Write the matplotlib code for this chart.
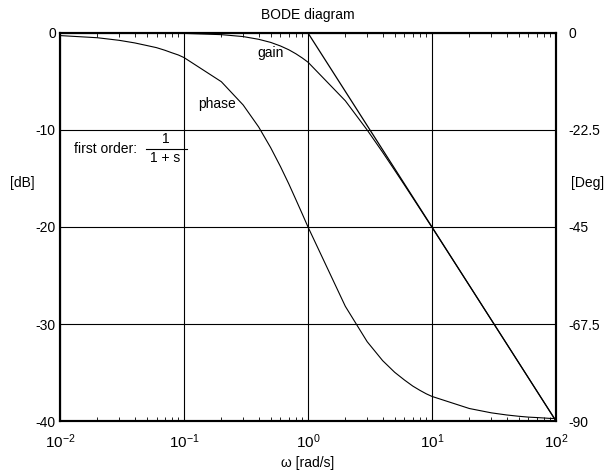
import matplotlib
matplotlib.use('Agg')
import matplotlib.pyplot as plt
from matplotlib.lines import Line2D

plt.rcParams['font.family'] = ['Liberation Sans', 'DejaVu Sans']
plt.rcParams['mathtext.fontset'] = 'custom'
plt.rcParams['mathtext.rm'] = 'Liberation Sans'
plt.rcParams['mathtext.it'] = 'Liberation Sans'
plt.rcParams['axes.unicode_minus'] = False

# pulsation (rad/s)
omega = [0.01, 0.02, 0.03, 0.04, 0.05, 0.06, 0.07, 0.08, 0.09,
         0.1, 0.2, 0.3, 0.4, 0.5, 0.6, 0.7, 0.8, 0.9,
         1, 2, 3, 4, 5, 6, 7, 8, 9,
         10, 20, 30, 40, 50, 60, 70, 80, 90, 100]

# gain (dB)
gain = [0.00, 0.00, 0.00, -0.01, -0.01, -0.02, -0.02, -0.03, -0.04,
        -0.04, -0.17, -0.37, -0.65, -0.97, -1.34, -1.73, -2.15, -2.58,
        -3.01, -6.99, -10.00, -12.30, -14.15, -15.68, -16.99, -18.13, -19.14,
        -20.04, -26.03, -29.55, -32.04, -33.98, -35.56, -36.90, -38.06, -39.08, -40.00]

# phase (deg)
phase = [-0.6, -1.1, -1.7, -2.3, -2.9, -3.4, -4.0, -4.6, -5.1,
         -5.7, -11.3, -16.7, -21.8, -26.6, -31.0, -35.0, -38.7, -42.0,
         -45.0, -63.4, -71.6, -76.0, -78.7, -80.5, -81.9, -82.9, -83.7,
         -84.3, -87.1, -88.1, -88.6, -88.9, -89.1, -89.2, -89.3, -89.4, -89.4]

# asymptote
asym_w = [1, 100]
asym_db = [0, -40]

db_ticks = [0, -10, -20, -30, -40]
deg_ticks = [0, -22.5, -45, -67.5, -90]
deg_labels = ['0', '-22.5', '-45', '-67.5', '-90']
w_ticks = [1e-2, 1e-1, 1, 10, 100]
w_labels = [r'$\mathregular{10^{-2}}$', r'$\mathregular{10^{-1}}$', r'$\mathregular{10^{0}}$',
            r'$\mathregular{10^{1}}$', r'$\mathregular{10^{2}}$']

fs = 10

fig = plt.figure(figsize=(6.05, 4.74), dpi=100)
ax = fig.add_axes([0.0992, 0.1118, 0.8198, 0.8186])
ax.set_xscale('log')
ax.set_xlim(1e-2, 1e2)
ax.set_ylim(-40, 0)

ax.plot(omega, gain, color='black', lw=0.8)
ax.plot(asym_w, asym_db, color='black', lw=0.9)

ax2 = ax.twinx()
ax2.set_ylim(-90, 0)
ax2.plot(omega, phase, color='black', lw=0.8)
ax2.set_yticks(deg_ticks)
ax2.set_yticklabels(deg_labels)
ax2.tick_params(axis='y', length=0, pad=9, labelsize=fs)

ax.set_yticks(db_ticks)
ax.set_yticklabels([str(v) for v in db_ticks])
ax.set_xticks(w_ticks)
ax.set_xticklabels(w_labels)
ax.grid(True, which='major', color='black', lw=0.8)
ax.tick_params(axis='y', length=0, pad=3, labelsize=fs)
ax.tick_params(axis='x', which='major', length=0, pad=8, labelsize=fs + 1)
ax.tick_params(axis='x', which='minor', direction='in', length=3, width=0.6,
               top=True, bottom=True)
for a in (ax, ax2):
    for s in a.spines.values():
        s.set_linewidth(1.5)

ax.set_title('BODE diagram', fontsize=fs, pad=10)
ax.set_xlabel('ω [rad/s]', fontsize=fs, labelpad=4)

fig.text(22 / 605, 1 - 183 / 474, '[dB]', fontsize=fs, ha='center', va='center')
fig.text(604 / 605, 1 - 183 / 474, '[Deg]', fontsize=fs, ha='right', va='center')

ax.text(0.39, -2.1, 'gain', fontsize=fs, ha='left', va='center')
ax.text(0.13, -7.3, 'phase', fontsize=fs, ha='left', va='center')

# first order transfer function label
fig.text(74 / 605, 1 - 149 / 474, 'first order:', fontsize=fs, ha='left', va='center')
fig.text(166 / 605, 1 - 139 / 474, '1', fontsize=fs, ha='center', va='center')
fig.text(165 / 605, 1 - 158 / 474, '1 + s', fontsize=fs, ha='center', va='center')
fig.add_artist(Line2D([146 / 605, 187 / 605], [1 - 149 / 474, 1 - 149 / 474],
                      color='black', lw=0.8))

fig.savefig('out.png', dpi=100)
